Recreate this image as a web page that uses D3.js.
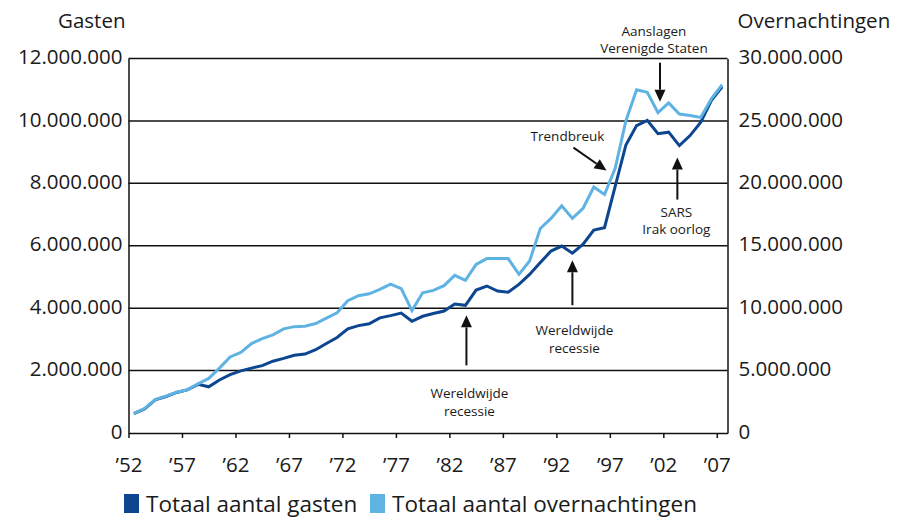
<!DOCTYPE html>
<html>
<head>
<meta charset="utf-8">
<script src="https://cdn.jsdelivr.net/npm/d3@7"></script>
<style>
  body { margin: 0; background: #fff; }
  text { font-family: "Open Sans", "Noto Sans", sans-serif; fill: #1a1a1a; }
</style>
</head>
<body>
<script>
// data: years 1952-2007
var years = d3.range(1952, 2008);

var gasten = [
  0.62, 0.77, 1.06, 1.17, 1.30, 1.38, 1.56, 1.48, 1.70, 1.87,
  1.99, 2.08, 2.16, 2.30, 2.39, 2.49, 2.53, 2.67, 2.87, 3.06,
  3.34, 3.44, 3.50, 3.69, 3.76, 3.84, 3.58, 3.74, 3.83, 3.91,
  4.13, 4.09, 4.58, 4.71, 4.55, 4.51, 4.76, 5.08, 5.46, 5.83,
  5.99, 5.76, 6.05, 6.50, 6.58, 7.90, 9.23, 9.85, 10.02, 9.59,
  9.64, 9.21, 9.53, 9.96, 10.66, 11.09
].map(d => d * 1e6);

var overnachtingen = [
  1.58, 1.96, 2.68, 2.95, 3.27, 3.46, 3.94, 4.37, 5.20, 6.09,
  6.46, 7.16, 7.56, 7.86, 8.34, 8.52, 8.55, 8.77, 9.20, 9.63,
  10.60, 11.00, 11.15, 11.50, 11.93, 11.56, 9.81, 11.23, 11.42, 11.80,
  12.63, 12.23, 13.50, 13.97, 13.97, 13.97, 12.71, 13.78, 16.38, 17.19,
  18.20, 17.19, 18.00, 19.70, 19.10, 21.20, 25.00, 27.50, 27.30, 25.66,
  26.44, 25.55, 25.44, 25.28, 26.78, 27.90
].map(d => d * 1e6);

var leftTicks = [0, 2e6, 4e6, 6e6, 8e6, 10e6, 12e6];
var rightTicks = [0, 5e6, 10e6, 15e6, 20e6, 25e6, 30e6];
var xTicks = [1952, 1957, 1962, 1967, 1972, 1977, 1982, 1987, 1992, 1997, 2002, 2007];

var seriesNames = ["Totaal aantal gasten", "Totaal aantal overnachtingen"];

// annotations: year of the arrow and the label text
var annotations = [
  { lines: ["Aanslagen", "Verenigde Staten"], year: 2001, dir: "down", dx: 2, gap: 11, len: 39, textDy: 66, textDx: -6 },
  { lines: ["SARS", "Irak oorlog"], year: 2003, dir: "up", dx: -2, gap: 12, len: 42, textDy: 59, textDx: -1 },
  { lines: ["Wereldwijde", "recessie"], year: 1993, dir: "up", dx: 0, gap: 7, len: 45, textDy: 75, textDx: 2 },
  { lines: ["Wereldwijde", "recessie"], year: 1983, dir: "up", dx: 1, gap: 10, len: 50, textDy: 83, textDx: 3 }
];

var svgWidth = 899;
var svgHeight = 520;

var margin = {
  top: 58.5,
  bottom: 87,
  left: 128.5,
  right: 171.5
};

var chartHeight = svgHeight - margin.top - margin.bottom;
var chartWidth = svgWidth - margin.left - margin.right;

var darkBlue = "#0d4690";
var lightBlue = "#5fb3e3";

var svg = d3.select('body')
  .append('svg')
  .attr('width', svgWidth)
  .attr('height', svgHeight);

var chartGroup = svg.append('g')
  .attr('transform', `translate(${margin.left},${margin.top})`);

// scales (points sit in the middle of each year)
var xScale = d3.scaleLinear()
  .domain([1952, 2008])
  .range([0, chartWidth]);

var yLeft = d3.scaleLinear()
  .domain([0, 12e6])
  .range([chartHeight, 0]);

var yRight = d3.scaleLinear()
  .domain([0, 30e6])
  .range([chartHeight, 0]);

var nl = d3.formatLocale({ decimal: ",", thousands: ".", grouping: [3], currency: ["€", ""] });
var fmt = nl.format(",d");

// gridlines
chartGroup.selectAll('.grid')
  .data(leftTicks.slice(1))
  .enter()
  .append('line')
  .attr('x1', 0)
  .attr('x2', chartWidth)
  .attr('y1', d => yLeft(d))
  .attr('y2', d => yLeft(d))
  .attr('stroke', '#111')
  .attr('stroke-width', 1.5);

// axes
var leftAxis = d3.axisLeft(yLeft).tickValues(leftTicks).tickFormat(fmt).tickSize(0).tickPadding(6);
var rightAxis = d3.axisRight(yRight).tickValues(rightTicks).tickFormat(fmt).tickSize(0).tickPadding(11);
var bottomAxis = d3.axisBottom(xScale).tickValues(xTicks)
  .tickFormat(d => "\u2019" + String(d).slice(2)).tickSize(5).tickSizeOuter(0).tickPadding(19);

var gl = chartGroup.append('g').call(leftAxis);
var gr = chartGroup.append('g').attr('transform', `translate(${chartWidth},0)`).call(rightAxis);
var gb = chartGroup.append('g').attr('transform', `translate(0,${chartHeight})`).call(bottomAxis);

[gl, gr, gb].forEach(g => {
  g.select('.domain').attr('stroke', '#111').attr('stroke-width', 1.5);
  g.selectAll('.tick line').attr('stroke', '#111').attr('stroke-width', 1.5);
  g.selectAll('text').attr('font-size', '20.5px').attr('fill', '#1a1a1a')
    .style('font-family', '"Open Sans", sans-serif');
});
gl.selectAll('text').attr('dy', '0.25em');
gr.selectAll('text').attr('dy', '0.25em');

// lines: gasten first, overnachtingen on top
var line = d3.line()
  .x((d, i) => xScale(years[i] + 0.5));

chartGroup.append('path')
  .datum(gasten)
  .attr('fill', 'none')
  .attr('stroke', darkBlue)
  .attr('stroke-width', 3)
  .attr('d', line.y(d => yLeft(d)));

chartGroup.append('path')
  .datum(overnachtingen)
  .attr('fill', 'none')
  .attr('stroke', lightBlue)
  .attr('stroke-width', 3)
  .attr('d', line.y(d => yRight(d)));

// axis titles
svg.append('text')
  .attr('x', margin.left - 3)
  .attr('y', 28)
  .attr('text-anchor', 'end')
  .attr('font-size', '20.5px')
  .text('Gasten');

svg.append('text')
  .attr('x', margin.left + chartWidth + 10)
  .attr('y', 28)
  .attr('font-size', '20.5px')
  .text('Overnachtingen');

// arrows
function arrow(g, x1, y1, x2, y2) {
  var ang = Math.atan2(y2 - y1, x2 - x1);
  var len = 12, half = 5.5;
  var bx = x2 - len * Math.cos(ang), by = y2 - len * Math.sin(ang);
  g.append('line')
    .attr('x1', x1).attr('y1', y1).attr('x2', bx).attr('y2', by)
    .attr('stroke', '#111').attr('stroke-width', 2);
  g.append('path')
    .attr('d', `M${x2},${y2}L${bx + half * Math.sin(ang)},${by - half * Math.cos(ang)}L${bx - half * Math.sin(ang)},${by + half * Math.cos(ang)}Z`)
    .attr('fill', '#111');
}

var annoGroup = chartGroup.append('g');

annotations.forEach(a => {
  var i = years.indexOf(a.year);
  var ax = xScale(a.year + 0.5) + a.dx;
  var textY;
  if (a.dir === "down") {
    var tip = yRight(overnachtingen[i]) - a.gap;
    arrow(annoGroup, ax, tip - a.len, ax, tip);
    textY = tip - a.textDy;
  } else {
    var tipUp = yLeft(gasten[i]) + a.gap;
    arrow(annoGroup, ax, tipUp + a.len, ax, tipUp);
    textY = tipUp + a.textDy;
  }
  a.lines.forEach((t, k) => {
    annoGroup.append('text')
      .attr('x', ax + a.textDx)
      .attr('y', textY + k * 17.5)
      .attr('text-anchor', 'middle')
      .attr('font-size', '13.5px')
      .text(t);
  });
});

// Trendbreuk: points at the break in 1996/1997
var tb = years.indexOf(1996);
var tbx = xScale(1996.5) + 2;
var tby = yRight(overnachtingen[tb]) - 24;
arrow(annoGroup, tbx - 33, tby - 23, tbx, tby);
annoGroup.append('text')
  .attr('x', tbx - 39)
  .attr('y', tby - 30)
  .attr('text-anchor', 'middle')
  .attr('font-size', '13.5px')
  .text('Trendbreuk');

// legend
var legend = svg.append('g').attr('transform', 'translate(124,494)');
var colors = [darkBlue, lightBlue];
var offsets = [0, 246];
seriesNames.forEach((name, k) => {
  legend.append('rect')
    .attr('x', offsets[k])
    .attr('y', 0)
    .attr('width', 15)
    .attr('height', 19)
    .attr('fill', colors[k]);
  legend.append('text')
    .attr('x', offsets[k] + 22)
    .attr('y', 17.5)
    .attr('font-size', '22.5px')
    .text(name);
});
</script>
</body>
</html>
